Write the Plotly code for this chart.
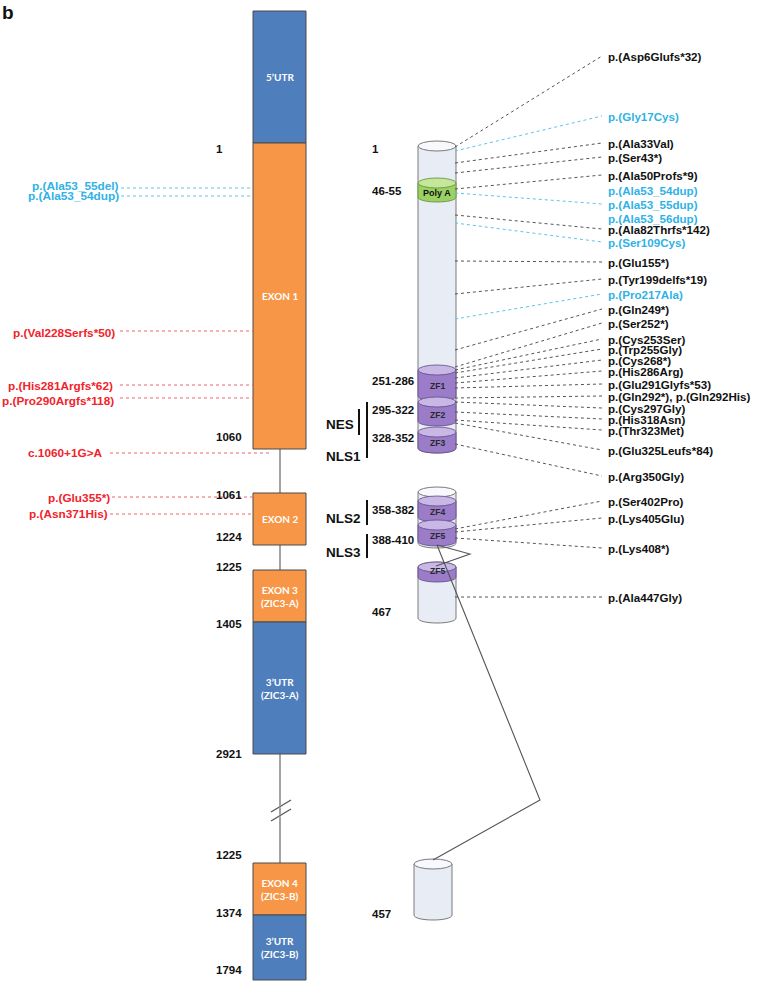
import plotly.graph_objects as go

# ------------------------------------------------------------------ data
GENE_SEGMENTS = ["5’UTR", "EXON 1", "EXON 2", "EXON 3<br>(ZIC3-A)",
                 "3’UTR<br>(ZIC3-A)", "EXON 4<br>(ZIC3-B)", "3’UTR<br>(ZIC3-B)"]
GENE_KIND = ["utr", "exon", "exon", "exon", "utr", "exon", "utr"]
GENE_COORDS = ["1", "1060", "1061", "1224", "1225", "1405", "2921", "1225", "1374", "1794"]

LEFT_MUTATIONS = ["p.(Ala53_55del)", "p.(Ala53_54dup)", "p.(Val228Serfs*50)",
                  "p.(His281Argfs*62)", "p.(Pro290Argfs*118)", "c.1060+1G>A",
                  "p.(Glu355*)", "p.(Asn371His)"]
LEFT_MUT_TYPE = ["cyan", "cyan", "red", "red", "red", "red", "red", "red"]

DOMAINS = ["Poly A", "ZF1", "ZF2", "ZF3", "ZF4", "ZF5", "ZF5"]
DOMAIN_KIND = ["polyA", "zf", "zf", "zf", "zf", "zf", "zf"]
PROTEIN_LABELS = ["1", "46-55", "251-286", "295-322", "328-352", "358-382", "388-410", "467", "457"]
SIGNALS = ["NES", "NLS1", "NLS2", "NLS3"]

RIGHT_MUTATIONS = ["p.(Asp6Glufs*32)", "p.(Gly17Cys)", "p.(Ala33Val)", "p.(Ser43*)",
                   "p.(Ala50Profs*9)", "p.(Ala53_54dup)", "p.(Ala53_55dup)", "p.(Ala53_56dup)",
                   "p.(Ala82Thrfs*142)", "p.(Ser109Cys)", "p.(Glu155*)", "p.(Tyr199delfs*19)",
                   "p.(Pro217Ala)", "p.(Gln249*)", "p.(Ser252*)", "p.(Cys253Ser)",
                   "p.(Trp255Gly)", "p.(Cys268*)", "p.(His286Arg)", "p.(Glu291Glyfs*53)",
                   "p.(Gln292*), p.(Gln292His)", "p.(Cys297Gly)", "p.(His318Asn)",
                   "p.(Thr323Met)", "p.(Glu325Leufs*84)", "p.(Arg350Gly)", "p.(Ser402Pro)",
                   "p.(Lys405Glu)", "p.(Lys408*)", "p.(Ala447Gly)"]
RIGHT_MUT_TYPE = ["black", "cyan", "black", "black", "black", "cyan", "cyan", "cyan",
                  "black", "cyan", "black", "black", "cyan", "black", "black", "black",
                  "black", "black", "black", "black", "black", "black", "black", "black",
                  "black", "black", "black", "black", "black", "black"]

# ------------------------------------------------------------------ layout (pixel positions)
BOX_X = (253, 306)
GENE_Y = [(11, 143), (143, 449), (493, 545), (570, 622), (622, 754), (863, 915), (915, 980)]
GENE_COORD_Y = [149, 437, 495, 537, 567, 624, 754, 855, 913, 970]
CONNECTORS = [(449, 493), (545, 570), (754, 863)]
GENE_LINE_X = 280

LEFT_LABEL_RIGHT = [119, 119, 115, 113, 114, 103, 110, 108]
LEFT_LABEL_Y = [185.5, 196, 333, 386, 401, 453, 498, 514]
LEFT_LINE_X = [(121, 253), (121, 253), (120, 253), (120, 253), (120, 253), (110, 272), (112, 253), (110, 253)]
LEFT_LINE_Y = [188, 196, 331, 385, 398, 453, 497, 514]

CYLINDERS = [(418, 456, 146, 448), (418, 456, 492, 543), (418, 456, 567, 618), (414, 452, 864, 915)]
DOMAIN_POS = [(0, 183, 197), (0, 370, 396), (0, 402, 421), (0, 432, 448),
              (1, 501, 517), (1, 525, 541), (2, 567, 577)]
PROTEIN_LABEL_Y = [149, 191, 381, 410, 438, 510, 540, 612, 914]
SIGNAL_Y = [424, 456, 518, 552]
SIGNAL_BARS = [(359, 409, 435), (367, 402, 458), (367, 500, 525), (367, 534, 558)]

RIGHT_LABEL_Y = [56, 116, 143, 157, 175, 190, 204, 218, 229, 242, 262, 279, 294, 309, 323,
                 339, 349, 360, 371, 384, 396, 408, 419, 430, 450, 476, 501, 518, 548, 597]
RIGHT_ORIGIN_Y = [147, 151, 163, 173, 189, None, 193, None, 215, 223, 261, 294, 319, 350, 367,
                  370, 373, 378, 383, 388, 398, 402, 412, 420, 423, 444, 529, 532, 538, 597]

COLORS = {"utr": "#4F7EBD", "exon": "#F79646", "red": "#F2232B", "cyan": "#2FB2E6",
          "black": "#111111"}
LINE_COLORS = {"red": "#F0646A", "cyan": "#5CC4EE", "black": "#555555"}
FONT = "Liberation Sans, Arial, sans-serif"

shapes = []
annotations = []


def text(x, y, s, size=11.5, color="#111111", xanchor="left", family=FONT, bold=True):
    annotations.append(dict(x=x, y=y, xref="x", yref="y", text=("<b>%s</b>" % s) if bold else s,
                            showarrow=False, xanchor=xanchor, yanchor="middle",
                            font=dict(family=family, size=size, color=color),
                            borderpad=0, borderwidth=0))


def line(x0, y0, x1, y1, color="#555555", width=1, dash="solid"):
    shapes.append(dict(type="line", x0=x0, y0=y0, x1=x1, y1=y1, xref="x", yref="y",
                       line=dict(color=color, width=width, dash=dash)))


# ---- gene structure
for (y0, y1) in CONNECTORS:
    line(GENE_LINE_X, y0, GENE_LINE_X, y1, color="#666666", width=1.2)
# break marks
for off in (0, 9):
    shapes.append(dict(type="line", x0=275, y0=809.5 + off, x1=287, y1=802.5 + off,
                       line=dict(color="white", width=2)))
for off in (0, 9):
    shapes.append(dict(type="line", x0=271, y0=812 + off, x1=291, y1=800 + off,
                       line=dict(color="#555555", width=1.2)))

for name, kind, (y0, y1) in zip(GENE_SEGMENTS, GENE_KIND, GENE_Y):
    shapes.append(dict(type="rect", x0=BOX_X[0], x1=BOX_X[1], y0=y0, y1=y1,
                       fillcolor=COLORS[kind], line=dict(color="#4a4a4a", width=1)))
    text((BOX_X[0] + BOX_X[1]) / 2, (y0 + y1) / 2, name, size=10, color="white",
         xanchor="center", family="Lato, Open Sans, sans-serif")

for lab, y in zip(GENE_COORDS, GENE_COORD_Y):
    text(216, y, lab, size=11.5)

# ---- left mutations
for lab, kind, xr, y, (lx0, lx1), ly in zip(LEFT_MUTATIONS, LEFT_MUT_TYPE, LEFT_LABEL_RIGHT,
                                            LEFT_LABEL_Y, LEFT_LINE_X, LEFT_LINE_Y):
    line(lx0, ly, lx1, ly, color=LINE_COLORS[kind], width=1, dash="dot")
    text(xr, y, lab, size=11.8, color=COLORS[kind], xanchor="right")


# ---- protein cylinders
def body_path(x0, x1, yt, yb, ry):
    k = ry * 4 / 3
    return (f"M {x0},{yt} L {x0},{yb} C {x0},{yb + k} {x1},{yb + k} {x1},{yb} "
            f"L {x1},{yt} Z")


RY = 5
for (x0, x1, yt, yb) in CYLINDERS:
    shapes.append(dict(type="path", path=body_path(x0, x1, yt, yb, RY),
                       fillcolor="#E8ECF4", line=dict(color="#7A7A7A", width=1)))
    shapes.append(dict(type="circle", x0=x0, x1=x1, y0=yt - RY, y1=yt + RY,
                       fillcolor="#F8F9FC", line=dict(color="#7A7A7A", width=1)))

DOMAIN_STYLE = {"polyA": ("#9BD164", "#C4E79C", "#5E8F2E"),
                "zf": ("#9A7CC8", "#C9B8E6", "#5F4A86")}
for name, kind, (ci, yt, yb) in zip(DOMAINS, DOMAIN_KIND, DOMAIN_POS):
    x0, x1 = CYLINDERS[ci][0], CYLINDERS[ci][1]
    body, top, edge = DOMAIN_STYLE[kind]
    shapes.append(dict(type="path", path=body_path(x0, x1, yt, yb, RY),
                       fillcolor=body, line=dict(color=edge, width=0.8)))
    shapes.append(dict(type="circle", x0=x0, x1=x1, y0=yt - RY, y1=yt + RY,
                       fillcolor=top, line=dict(color=edge, width=0.8)))
    cy = (yt + yb) / 2 + 3 if yb - yt > 12 else yt + 4
    text((x0 + x1) / 2, cy, name, size=8.5 if kind == "zf" else 9,
         color="#2a2a2a" if kind == "zf" else "#111111", xanchor="center")

# connecting lines (alternative splicing)
shapes.append(dict(type="path", path="M 437,545 L 470,554 L 436,566",
                   line=dict(color="#555555", width=1.1)))
shapes.append(dict(type="path", path="M 437,545 L 540,800 L 433,860",
                   line=dict(color="#555555", width=1.1)))

for lab, y in zip(PROTEIN_LABELS, PROTEIN_LABEL_Y):
    text(372, y, lab, size=11.5)

for lab, y, (bx, by0, by1) in zip(SIGNALS, SIGNAL_Y, SIGNAL_BARS):
    text(326, y, lab, size=13.5)
    line(bx, by0, bx, by1, color="#111111", width=2)

# ---- right mutations
for lab, kind, ly, oy in zip(RIGHT_MUTATIONS, RIGHT_MUT_TYPE, RIGHT_LABEL_Y, RIGHT_ORIGIN_Y):
    if oy is not None:
        line(455, oy, 602, ly, color=LINE_COLORS[kind], width=1, dash="dot")
    text(608, ly, lab, size=11.6, color=COLORS[kind])

# panel letter
text(2, 12, "b", size=19)

fig = go.Figure()
fig.update_layout(
    width=757, height=982, margin=dict(l=0, r=0, t=0, b=0),
    paper_bgcolor="white", plot_bgcolor="white",
    xaxis=dict(range=[0, 757], visible=False, fixedrange=True),
    yaxis=dict(range=[982, 0], visible=False, fixedrange=True),
    shapes=shapes, annotations=annotations, showlegend=False,
)
fig.write_html("out.html", config={"displayModeBar": False},
               post_script="document.body.style.margin='0';document.body.style.padding='0';")
